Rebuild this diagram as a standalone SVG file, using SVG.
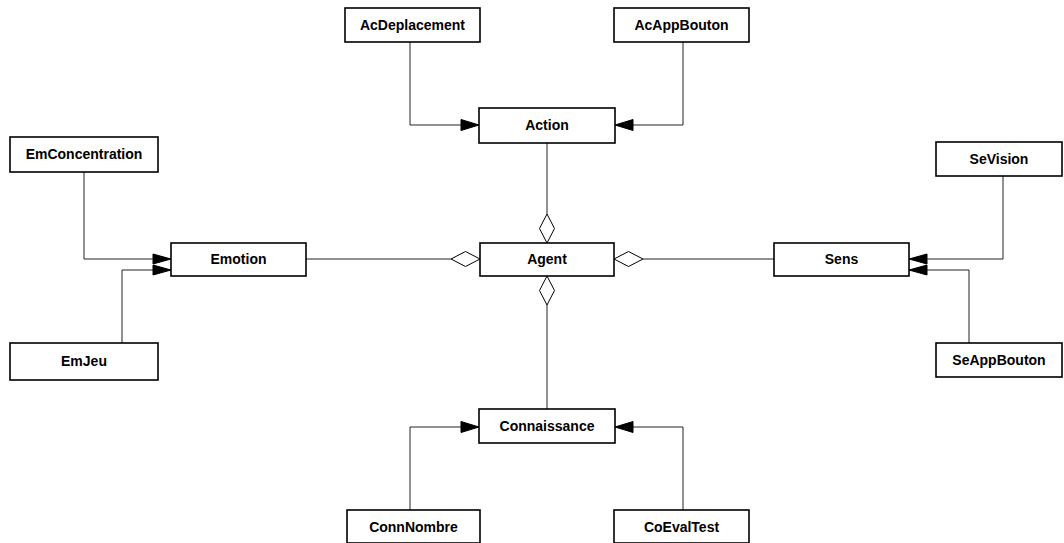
<svg xmlns="http://www.w3.org/2000/svg" width="1064" height="543" viewBox="0 0 1064 543">
<style>
.box{fill:#fff;stroke:#000;stroke-width:1.6}
.lbl{font-family:"Liberation Sans",Arial,sans-serif;font-weight:bold;font-size:14px;fill:#000;text-anchor:middle}
.ln{fill:none;stroke:#222;stroke-width:1}
.tri{fill:#000;stroke:#000;stroke-width:1}
.dia{fill:#fff;stroke:#000;stroke-width:1}
</style>
<rect width="1064" height="543" fill="#fff"/>
<g id="connectors">
<path class="ln" d="M410,42 V125 H462"/>
<polygon class="tri" points="479,125 461,119.5 461,130.5"/>
<path class="ln" d="M683,42 V125 H632"/>
<polygon class="tri" points="615,125 633,119.5 633,130.5"/>
<path class="ln" d="M84,172 V259 H154"/>
<polygon class="tri" points="171,259 153,254 153,264"/>
<path class="ln" d="M122,343 V270 H154"/>
<polygon class="tri" points="171,270 153,265 153,275"/>
<path class="ln" d="M1003,176 V259 H926"/>
<polygon class="tri" points="909,259 927,254 927,264"/>
<path class="ln" d="M969,343 V270 H926"/>
<polygon class="tri" points="909,270 927,265 927,275"/>
<path class="ln" d="M410,510 V427 H462"/>
<polygon class="tri" points="479,427 461,421.5 461,432.5"/>
<path class="ln" d="M683,510 V427 H632"/>
<polygon class="tri" points="615,427 633,421.5 633,432.5"/>
<path class="ln" d="M547,143 V214"/>
<polygon class="dia" points="547,243 554.5,228.5 547,214 539.5,228.5"/>
<path class="ln" d="M547,305 V409"/>
<polygon class="dia" points="547,276 554.5,290.5 547,305 539.5,290.5"/>
<path class="ln" d="M306,259 H451"/>
<polygon class="dia" points="480,259 465.5,251.5 451,259 465.5,266.5"/>
<path class="ln" d="M643,259 H774"/>
<polygon class="dia" points="614,259 628.5,251.5 643,259 628.5,266.5"/>
</g>
<g id="AcDeplacement"><rect class="box" x="345" y="8" width="135" height="34"/><text class="lbl" x="412.5" y="30">AcDeplacement</text></g>
<g id="AcAppBouton"><rect class="box" x="614" y="8" width="135" height="34"/><text class="lbl" x="681.5" y="30">AcAppBouton</text></g>
<g id="Action"><rect class="box" x="479" y="108" width="136" height="35"/><text class="lbl" x="547" y="130">Action</text></g>
<g id="EmConcentration"><rect class="box" x="10" y="137" width="148" height="35"/><text class="lbl" x="84" y="159">EmConcentration</text></g>
<g id="Emotion"><rect class="box" x="171" y="243" width="135" height="33"/><text class="lbl" x="238.5" y="264">Emotion</text></g>
<g id="EmJeu"><rect class="box" x="10" y="343" width="148" height="37"/><text class="lbl" x="84" y="366">EmJeu</text></g>
<g id="Agent"><rect class="box" x="480" y="243" width="134" height="33"/><text class="lbl" x="547" y="264">Agent</text></g>
<g id="Sens"><rect class="box" x="774" y="243" width="135" height="33"/><text class="lbl" x="841.5" y="264">Sens</text></g>
<g id="SeVision"><rect class="box" x="936" y="142" width="126" height="34"/><text class="lbl" x="999" y="164">SeVision</text></g>
<g id="SeAppBouton"><rect class="box" x="936" y="343" width="126" height="34"/><text class="lbl" x="999" y="365">SeAppBouton</text></g>
<g id="Connaissance"><rect class="box" x="479" y="409" width="136" height="34"/><text class="lbl" x="547" y="431">Connaissance</text></g>
<g id="ConnNombre"><rect class="box" x="347" y="510" width="133" height="33"/><text class="lbl" x="413.5" y="532">ConnNombre</text></g>
<g id="CoEvalTest"><rect class="box" x="614" y="510" width="135" height="33"/><text class="lbl" x="681.5" y="532">CoEvalTest</text></g>
</svg>
